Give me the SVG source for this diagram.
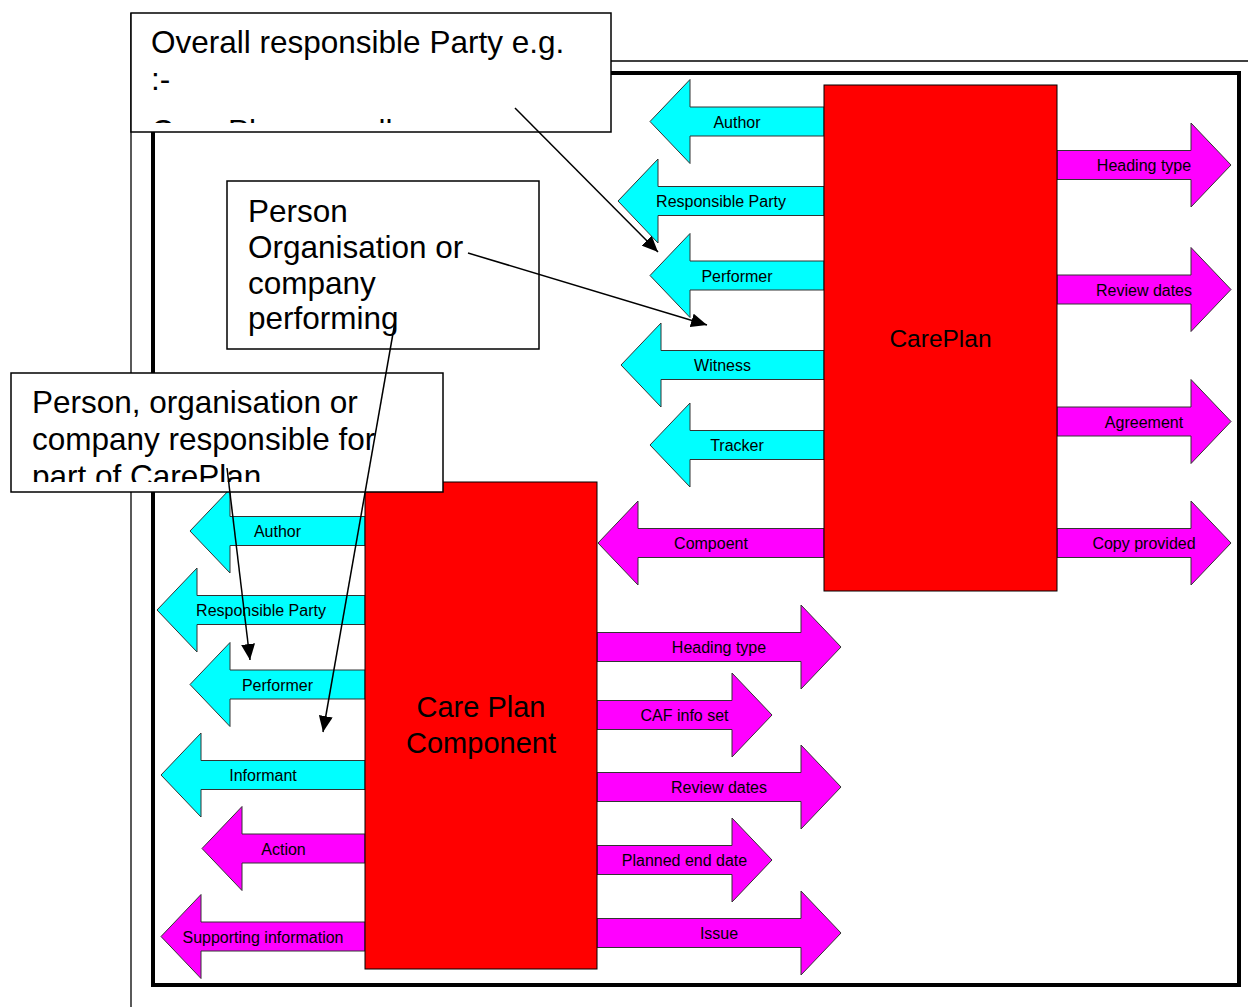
<svg xmlns="http://www.w3.org/2000/svg" width="1248" height="1007" viewBox="0 0 1248 1007">
<style>
.cy{fill:#00FFFF;stroke:#333;stroke-width:1}
.mg{fill:#FF00FF;stroke:#333;stroke-width:1}
.red{fill:#FF0000;stroke:#000;stroke-width:1}
.lbl{font-family:"Liberation Sans",Arial,sans-serif;font-size:16px;fill:#000;text-anchor:middle}
.big{font-family:"Liberation Sans",Arial,sans-serif;fill:#000;text-anchor:middle}
.note{font-family:"Liberation Sans",Arial,sans-serif;font-size:31.5px;fill:#000}
.box{fill:#fff;stroke:#000;stroke-width:1.5}
.ptr{stroke:#000;stroke-width:1.5;fill:none;marker-end:url(#ah)}
</style>
<defs>
<marker id="ah" markerUnits="userSpaceOnUse" markerWidth="18" markerHeight="14" refX="16" refY="7" orient="auto">
<path d="M0,0 L16,7 L0,14 Z" fill="#000"/>
</marker>
<clipPath id="c1"><rect x="132" y="14" width="478" height="109"/></clipPath>
<clipPath id="c3"><rect x="12" y="374" width="430" height="108"/></clipPath>
</defs>
<rect width="1248" height="1007" fill="#fff"/>
<g id="frame">
<line x1="131" y1="13" x2="131" y2="1007" stroke="#000" stroke-width="1.3"/>
<line x1="131" y1="61" x2="1248" y2="61" stroke="#000" stroke-width="1.3"/>
<rect x="153" y="73" width="1086" height="912" fill="none" stroke="#000" stroke-width="4"/>
</g>
<g id="careplan-arrows">
<g id="a-author"><polygon class="cy" points="650,121.5 690,79.5 690,107 824,107 824,136 690,136 690,163.5"/><text class="lbl" x="737" y="127.5">Author</text></g>
<g id="a-resp"><polygon class="cy" points="618,201 658,159 658,186.5 824,186.5 824,215.5 658,215.5 658,243"/><text class="lbl" x="721" y="207">Responsible Party</text></g>
<g id="a-perf"><polygon class="cy" points="650,275.5 690,233.5 690,261 824,261 824,290 690,290 690,317.5"/><text class="lbl" x="737" y="281.5">Performer</text></g>
<g id="a-witness"><polygon class="cy" points="621,365 661,323 661,350.5 824,350.5 824,379.5 661,379.5 661,407"/><text class="lbl" x="722.5" y="371">Witness</text></g>
<g id="a-tracker"><polygon class="cy" points="650,445 690,403 690,430.5 824,430.5 824,459.5 690,459.5 690,487"/><text class="lbl" x="737" y="451">Tracker</text></g>
<g id="a-compoent"><polygon class="mg" points="598,543 638,501 638,528.5 824,528.5 824,557.5 638,557.5 638,585"/><text class="lbl" x="711" y="549">Compoent</text></g>
<g id="a-heading"><polygon class="mg" points="1057,150.5 1191,150.5 1191,123 1231,165 1191,207 1191,179.5 1057,179.5"/><text class="lbl" x="1144" y="171">Heading type</text></g>
<g id="a-review"><polygon class="mg" points="1057,275 1191,275 1191,247.5 1231,289.5 1191,331.5 1191,304 1057,304"/><text class="lbl" x="1144" y="295.5">Review dates</text></g>
<g id="a-agree"><polygon class="mg" points="1057,407 1191,407 1191,379.5 1231,421.5 1191,463.5 1191,436 1057,436"/><text class="lbl" x="1144" y="427.5">Agreement</text></g>
<g id="a-copy"><polygon class="mg" points="1057,528.5 1191,528.5 1191,501 1231,543 1191,585 1191,557.5 1057,557.5"/><text class="lbl" x="1144" y="549">Copy provided</text></g>
</g>
<g id="component-arrows">
<g id="b-author"><polygon class="cy" points="190,531 230,489 230,516.5 365,516.5 365,545.5 230,545.5 230,573"/><text class="lbl" x="277.5" y="537">Author</text></g>
<g id="b-resp"><polygon class="cy" points="157,610 197,568 197,595.5 365,595.5 365,624.5 197,624.5 197,652"/><text class="lbl" x="261" y="616">Responsible Party</text></g>
<g id="b-perf"><polygon class="cy" points="190,684.5 230,642.5 230,670 365,670 365,699 230,699 230,726.5"/><text class="lbl" x="277.5" y="690.5">Performer</text></g>
<g id="b-inform"><polygon class="cy" points="161,775 201,733 201,760.5 365,760.5 365,789.5 201,789.5 201,817"/><text class="lbl" x="263" y="781">Informant</text></g>
<g id="b-action"><polygon class="mg" points="202,848.5 242,806.5 242,834 365,834 365,863 242,863 242,890.5"/><text class="lbl" x="283.5" y="854.5">Action</text></g>
<g id="b-support"><polygon class="mg" points="161,936.5 201,894.5 201,922 365,922 365,951 201,951 201,978.5"/><text class="lbl" x="263" y="942.5">Supporting information</text></g>
<g id="b-heading"><polygon class="mg" points="597,632.5 801,632.5 801,605 841,647 801,689 801,661.5 597,661.5"/><text class="lbl" x="719" y="653">Heading type</text></g>
<g id="b-caf"><polygon class="mg" points="597,700.5 732,700.5 732,673 772,715 732,757 732,729.5 597,729.5"/><text class="lbl" x="684.5" y="721">CAF info set</text></g>
<g id="b-review"><polygon class="mg" points="597,772.5 801,772.5 801,745 841,787 801,829 801,801.5 597,801.5"/><text class="lbl" x="719" y="793">Review dates</text></g>
<g id="b-planned"><polygon class="mg" points="597,845.5 732,845.5 732,818 772,860 732,902 732,874.5 597,874.5"/><text class="lbl" x="684.5" y="866">Planned end date</text></g>
<g id="b-issue"><polygon class="mg" points="597,918.5 801,918.5 801,891 841,933 801,975 801,947.5 597,947.5"/><text class="lbl" x="719" y="939">Issue</text></g>
</g>
<g id="careplan"><rect class="red" x="824" y="85" width="233" height="506"/><text class="big" x="940.5" y="347" font-size="24.5">CarePlan</text></g>
<g id="component"><rect class="red" x="365" y="482" width="232" height="487"/><text class="big" x="481" y="717" font-size="29">Care Plan</text><text class="big" x="481" y="753" font-size="29">Component</text></g>
<g id="note-overall"><rect class="box" x="131" y="13" width="480" height="119"/>
<g clip-path="url(#c1)"><text class="note" x="151" y="53">Overall responsible Party e.g.</text><text class="note" x="151" y="90">:-</text><text class="note" x="151" y="142">Care Plan overall</text></g></g>
<g id="note-perform"><rect class="box" x="227" y="181" width="312" height="168"/>
<text class="note" x="248" y="222">Person</text><text class="note" x="248" y="258">Organisation or</text><text class="note" x="248" y="294">company</text><text class="note" x="248" y="329">performing</text></g>
<g id="note-part"><rect class="box" x="11" y="373" width="432" height="119"/>
<g clip-path="url(#c3)"><text class="note" x="32" y="413">Person, organisation or</text><text class="note" x="32" y="450">company responsible for</text><text class="note" x="32" y="487">part of CarePlan</text></g></g>
<g id="connectors">
<line class="ptr" x1="515" y1="108" x2="658" y2="252"/>
<line class="ptr" x1="468" y1="253" x2="707" y2="325"/>
<line class="ptr" x1="395" y1="322" x2="323" y2="732"/>
<line class="ptr" x1="227" y1="468" x2="250" y2="660"/>
</g>
</svg>
